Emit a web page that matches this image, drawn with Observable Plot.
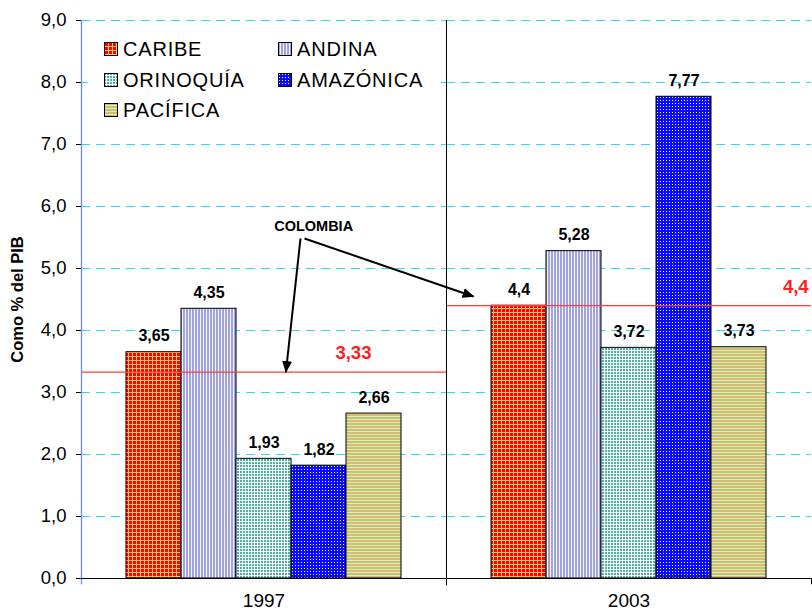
<!DOCTYPE html>
<html><head><meta charset="utf-8">
<script src="https://cdn.jsdelivr.net/npm/d3@7"></script>
<script src="https://cdn.jsdelivr.net/npm/@observablehq/plot@0.6"></script>
<style>
body{margin:0;background:#fff;font-family:"Liberation Sans",Arial,sans-serif;}
#wrap{position:relative;width:812px;height:616px;overflow:hidden;}
#wrap > svg{position:absolute;left:0;top:0;}
#legend{position:absolute;left:88px;top:27px;width:353px;height:101px;background:#fff;}
.item{position:absolute;height:20px;display:flex;align-items:center;font-size:20px;letter-spacing:0.8px;color:#000;white-space:nowrap;line-height:1;}
.item svg{margin-right:5px;flex:none;}
#main g[aria-label="y-axis tick"]{stroke:#7088ff;}
</style></head><body>
<svg width="0" height="0" style="position:absolute"><defs>
<pattern id="p-caribe" width="4" height="4" patternUnits="userSpaceOnUse">
  <rect width="4" height="4" fill="#FF0000"/>
  <rect width="4" height="1" fill="#FFC86A"/>
  <rect width="1" height="4" fill="#FFC86A"/>
</pattern>
<pattern id="p-andina" width="3" height="3" patternUnits="userSpaceOnUse">
  <rect width="3" height="3" fill="#A5A0DE"/>
  <rect x="2" width="1" height="3" fill="#EEF6FF"/>
</pattern>
<pattern id="p-orinoquia" width="3" height="3" patternUnits="userSpaceOnUse">
  <rect width="3" height="3" fill="#F2FFFC"/>
  <rect width="2" height="2" fill="#55AFA2"/>
</pattern>
<pattern id="p-amazonica" width="3" height="3" patternUnits="userSpaceOnUse">
  <rect width="3" height="3" fill="#0A0AFF"/>
  <rect x="1" y="1" width="1" height="1" fill="#FFFFFF"/>
</pattern>
<pattern id="p-pacifica" width="3" height="3" patternUnits="userSpaceOnUse">
  <rect width="3" height="3" fill="#D8B972"/>
  <rect y="2" width="3" height="1" fill="#C8F7B8"/>
</pattern>
</defs></svg>
<div id="wrap"></div>
<script>
// ---- data ----
const years = ["1997", "2003"];
const regions = ["CARIBE", "ANDINA", "ORINOQUÍA", "AMAZÓNICA", "PACÍFICA"];
const values1997 = [3.65, 4.35, 1.93, 1.82, 2.66];
const values2003 = [4.4, 5.28, 3.72, 7.77, 3.73];
const colombia = [3.33, 4.4];
const yTicks = [0, 1, 2, 3, 4, 5, 6, 7, 8, 9];
const patternIds = ["p-caribe", "p-andina", "p-orinoquia", "p-amazonica", "p-pacifica"];
// annotation positions in data space (x: group units 0..2, y: % of PIB)
const colombiaLabelX = [0.745, 1.957];
const colombiaLabelY = [3.634, 4.70];
const noteText = "COLOMBIA";
const noteX = 0.636, noteY = 5.677;
const arrowX1 = [0.600, 0.611], arrowY1 = [5.484, 5.484];
const arrowX2 = [0.560, 1.074], arrowY2 = [3.33, 4.548];
const yTitle = "Como % del PIB";
const yTitleX = -0.175, yTitleY = 4.5;

// ---- build ----
const fmt = v => String(v).replace(".", ",");
const series = [values1997, values2003];
const data = years.flatMap((yr, i) => regions.map((r, j) => ({year: yr, region: r, value: series[i][j]})));
const natl = years.map((yr, i) => ({year: yr, value: colombia[i]}));
const natlLabels = years.map((yr, i) => ({x: colombiaLabelX[i], y: colombiaLabelY[i], text: fmt(colombia[i])}));
const arrows = arrowX1.map((x1, i) => ({x1, y1: arrowY1[i], x2: arrowX2[i], y2: arrowY2[i]}));

const W = 812, H = 616, mL = 81, mR = 1, mT = 20, mB = 38;
const FONT = "'Liberation Sans', Arial, sans-serif";

const main = Plot.plot({
  width: W, height: H, marginLeft: mL, marginRight: mR, marginTop: mT, marginBottom: mB,
  style: {fontFamily: FONT, fontSize: "18.5px", background: "transparent", color: "#000", overflow: "visible"},
  fx: {domain: years, padding: 0, axis: null, label: null},
  x: {domain: regions, paddingInner: 0, paddingOuter: 0.77, axis: null, label: null},
  y: {domain: [0, 9], ticks: yTicks, tickSize: 5, tickPadding: 10, tickFormat: d => d.toFixed(1).replace(".", ","), label: null},
  color: {domain: regions, range: patternIds.map(id => `url(#${id})`)},
  marks: [
    Plot.ruleY(yTicks.filter(d => d > 0), {stroke: "#22E0FA", strokeDasharray: "9,6", strokeWidth: 1}),
    Plot.barY(data, {fx: "year", x: "region", y: "value", fill: "region", stroke: "#000", strokeWidth: 1}),
    Plot.ruleY(natl, {fx: "year", y: "value", stroke: "#FF3B3B", strokeWidth: 1.3}),
    Plot.text(data, {fx: "year", x: "region", y: "value", text: d => fmt(d.value), dy: -16, fontWeight: "bold", fontSize: 16}),
    Plot.text(years, {fx: d => d, text: d => d, frameAnchor: "bottom", dy: 28, fontSize: 19})
  ]
});
main.id = "main";

const ov = Plot.plot({
  width: W, height: H, marginLeft: mL, marginRight: mR, marginTop: mT, marginBottom: mB,
  style: {fontFamily: FONT, background: "transparent", color: "#000", overflow: "visible"},
  x: {domain: [0, years.length], axis: null},
  y: {domain: [0, 9], axis: null},
  marks: [
    Plot.ruleX([0], {y1: -0.1, y2: 9, stroke: "#7088ff", strokeWidth: 1.3}),
    Plot.ruleX(d3.range(1, years.length), {y1: -0.12, y2: 9, stroke: "#000", strokeWidth: 1}),
    Plot.ruleX([years.length], {y1: -0.1, y2: 0, stroke: "#000", strokeWidth: 1}),
    Plot.ruleY([0], {stroke: "#000", strokeWidth: 1.2}),
    Plot.link(arrows, {x1: "x1", y1: "y1", x2: "x2", y2: "y2", stroke: "#000", strokeWidth: 2}),
    Plot.text([noteText], {x: noteX, y: noteY, text: d => d, fontWeight: "bold", fontSize: 14.5}),
    Plot.text(natlLabels, {x: "x", y: "y", text: "text", fill: "#FF2020", fontWeight: "bold", fontSize: 18.5}),
    Plot.text([yTitle], {x: yTitleX, y: yTitleY, text: d => d, rotate: -90, fontWeight: "bold", fontSize: 16.5})
  ]
});
// filled arrowheads
const svgNS = "http://www.w3.org/2000/svg";
const defs = document.createElementNS(svgNS, "defs");
defs.innerHTML = '<marker id="ah" viewBox="0 0 12 10" refX="11" refY="5" markerWidth="6" markerHeight="5" markerUnits="strokeWidth" orient="auto"><path d="M0,0L12,5L0,10z" fill="#000"/></marker>';
ov.prepend(defs);
ov.querySelectorAll('g[aria-label="link"] path').forEach(p => p.setAttribute("marker-end", "url(#ah)"));
ov.style.pointerEvents = "none";

// legend
const legend = document.createElement("div");
legend.id = "legend";
const legendCols = [16, 190], legendRows = [12, 43, 73];
regions.forEach((r, i) => {
  const item = document.createElement("div");
  item.className = "item";
  item.style.left = legendCols[i % 2] + "px";
  item.style.top = legendRows[Math.floor(i / 2)] + "px";
  item.innerHTML = `<svg width="14" height="14"><rect x="0.5" y="0.5" width="13" height="13" fill="url(#${patternIds[i]})" stroke="#000" stroke-width="1"/></svg><span>${r}</span>`;
  legend.appendChild(item);
});

const wrap = document.getElementById("wrap");
wrap.appendChild(main);
wrap.appendChild(legend);
wrap.appendChild(ov);
</script>
</body></html>
